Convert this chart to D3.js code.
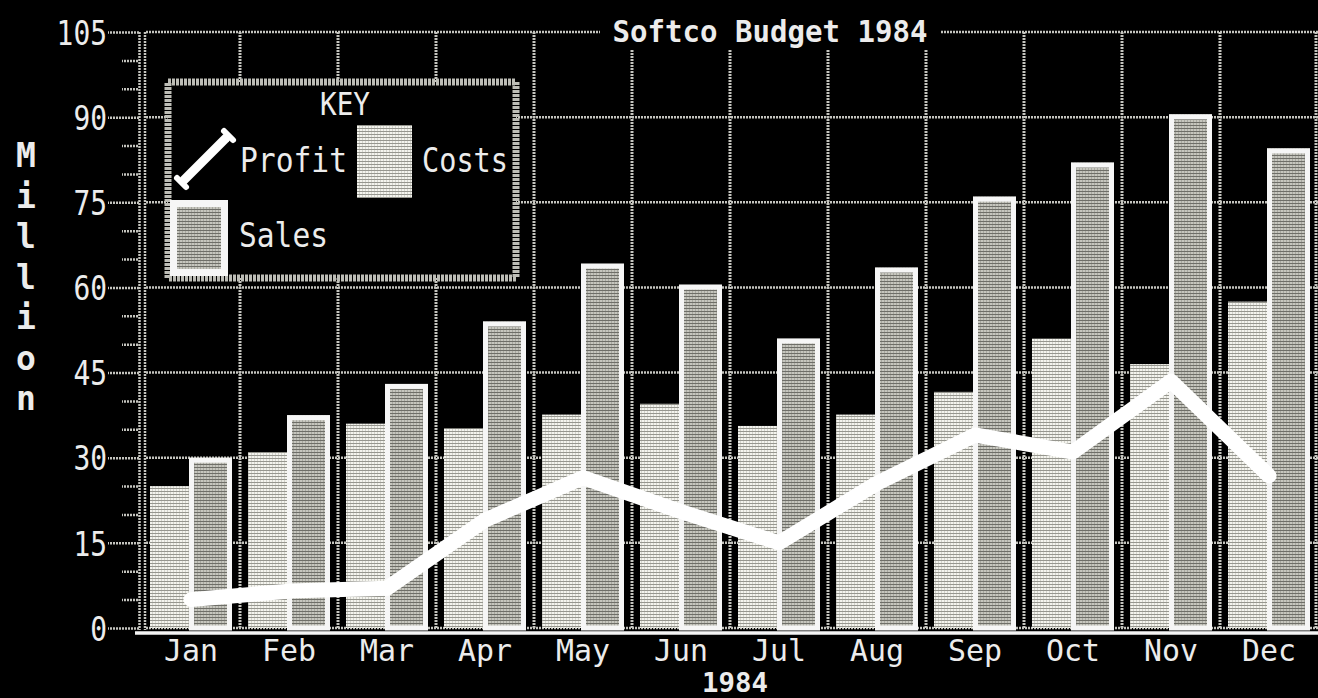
<!DOCTYPE html>
<html>
<head>
<meta charset="utf-8">
<script src="https://cdn.jsdelivr.net/npm/d3@7"></script>
<style>
  html, body { margin: 0; padding: 0; background: #000; }
  svg { display: block; }
  text { font-family: "DejaVu Sans Mono", monospace; fill: #ececec; }
</style>
</head>
<body>
<svg id="chart" width="1318" height="698"></svg>
<script>
// ---- data ----
const months = ["Jan","Feb","Mar","Apr","May","Jun","Jul","Aug","Sep","Oct","Nov","Dec"];
const costs  = [25, 31, 36, 35.2, 37.6, 39.5, 35.6, 37.6, 41.6, 51, 46.5, 57.5];
const sales  = [30, 37.5, 43, 54, 64.2, 60.5, 51, 63.5, 76, 82, 90.5, 84.5];
const profit = [5, 6.5, 7, 19, 26.5, 20.5, 15, 25.5, 34, 31, 43.5, 26.8];
const yTicks = [0, 15, 30, 45, 60, 75, 90, 105];
const yMinor = [5, 10, 20, 25, 35, 40, 50, 55, 65, 70, 80, 85, 95, 100];
const title = "Softco Budget 1984";
const xTitle = "1984";
const yTitle = "Million";
const legendKey = "KEY";
const seriesNames = ["Profit", "Costs", "Sales"];

const svg = d3.select("#chart");
const W = 1318, H = 698;
svg.append("rect").attr("width", W).attr("height", H).attr("fill", "#000");

// ---- patterns (halftone look) ----
const defs = svg.append("defs");
function pat(id, bg, line) {
  const p = defs.append("pattern").attr("id", id).attr("patternUnits", "userSpaceOnUse")
    .attr("width", 3).attr("height", 3);
  p.append("rect").attr("width", 3).attr("height", 3).attr("fill", bg);
  p.append("rect").attr("y", 2).attr("width", 3).attr("height", 1).attr("fill", line);
  p.append("rect").attr("x", 2).attr("width", 1).attr("height", 3).attr("fill", line).attr("opacity", 0.35);
}
pat("costsPat", "#f4f4ee", "#96968f");
pat("salesPat", "#c6c6be", "#6e6e68");

// ---- scales ----
const x = d3.scaleBand().domain(months).range([142, 1318]).paddingInner(0).paddingOuter(0);
const sub = d3.scaleBand().domain(["Costs", "Sales"]).range([8, 90]).padding(0);
const y = d3.scaleLinear().domain([0, 105]).range([628, 32]);

const gridCol = "#c4c4be";

// ---- grid ----
const grid = svg.append("g");
grid.selectAll("line.h").data(yTicks).join("line")
  .attr("x1", 146).attr("x2", W)
  .attr("y1", d => y(d)).attr("y2", d => y(d))
  .attr("stroke", gridCol).attr("stroke-width", 2.5).attr("stroke-dasharray", "2,1");
grid.selectAll("line.v").data(months.slice(1).concat(["__end"])).join("line")
  .attr("x1", d => d === "__end" ? W - 2 : x(d)).attr("x2", d => d === "__end" ? W - 2 : x(d))
  .attr("y1", y(105)).attr("y2", y(0))
  .attr("stroke", gridCol).attr("stroke-width", 3).attr("stroke-dasharray", "2,1");

// ---- y axis ----
const yAxis = d3.axisLeft(y).tickValues(yTicks).tickSize(31).tickPadding(1).tickFormat(d3.format("d"));
const ya = svg.append("g").attr("transform", "translate(139,0)").call(yAxis);
ya.select(".domain").remove();
ya.selectAll(".tick line").attr("stroke", gridCol).attr("stroke-width", 2.5).attr("stroke-dasharray", "2,1");
ya.selectAll(".tick text")
  .attr("fill", "#ececec").attr("font-size", 34).attr("dy", "0.36em")
  .attr("font-family", "DejaVu Sans Mono")
  .each(function(d) { d3.select(this).attr("textLength", String(d).length * 16.8).attr("lengthAdjust", "spacingAndGlyphs"); });
const yAxisMinor = d3.axisLeft(y).tickValues(yMinor).tickSize(16).tickFormat("");
const ym = svg.append("g").attr("transform", "translate(138,0)").call(yAxisMinor);
ym.select(".domain").remove();
ym.selectAll(".tick line").attr("stroke", gridCol).attr("stroke-width", 2.5).attr("stroke-dasharray", "2,1");
// double axis line
[139.5, 145].forEach(px => {
  svg.append("line").attr("x1", px).attr("x2", px).attr("y1", y(105)).attr("y2", y(0) + 2)
    .attr("stroke", gridCol).attr("stroke-width", 2.5).attr("stroke-dasharray", "2,1");
});

// ---- bars ----
const bars = svg.append("g");
bars.selectAll("rect.costs").data(months).join("rect")
  .attr("x", d => x(d) + sub("Costs"))
  .attr("width", sub.bandwidth() + 2)
  .attr("y", (d, i) => y(costs[i]))
  .attr("height", (d, i) => y(0) - y(costs[i]))
  .attr("fill", "url(#costsPat)");
bars.selectAll("rect.sales").data(months).join("rect")
  .attr("x", d => x(d) + sub("Sales") - 2)
  .attr("width", sub.bandwidth() + 2)
  .attr("y", (d, i) => y(sales[i]))
  .attr("height", (d, i) => y(0) - y(sales[i]))
  .attr("fill", "url(#salesPat)");
bars.selectAll("rect.salesBorder").data(months).join("rect")
  .attr("x", d => x(d) + sub("Sales") - 2 + 2.5)
  .attr("width", sub.bandwidth() + 2 - 5)
  .attr("y", (d, i) => y(sales[i]) + 2.5)
  .attr("height", (d, i) => y(0) - y(sales[i]) - 2.5)
  .attr("fill", "none").attr("stroke", "#f6f6f6").attr("stroke-width", 5);

// ---- x axis ----
svg.append("line").attr("x1", 135).attr("x2", W).attr("y1", 633).attr("y2", 633)
  .attr("stroke", "#f4f4f4").attr("stroke-width", 3.5);
const xAxis = d3.axisBottom(x).tickSize(0).tickPadding(0);
const xa = svg.append("g").attr("transform", "translate(0,661)").call(xAxis);
xa.select(".domain").remove();
xa.selectAll(".tick text")
  .attr("y", 0).attr("dy", 0)
  .attr("fill", "#e4e4e0").attr("font-size", 30).attr("font-family", "DejaVu Sans Mono")
  .attr("textLength", 54).attr("lengthAdjust", "spacingAndGlyphs");

// ---- profit line ----
const line = d3.line().x((d, i) => x(months[i]) + x.bandwidth() / 2).y(d => y(d));
svg.append("path").datum(profit).attr("d", line)
  .attr("fill", "none").attr("stroke", "#ffffff").attr("stroke-width", 15)
  .attr("stroke-linejoin", "round").attr("stroke-linecap", "round");

// ---- title ----
svg.append("rect").attr("x", 600).attr("y", 12).attr("width", 340).attr("height", 38).attr("fill", "#000");
svg.append("text").attr("x", 770).attr("y", 42).attr("text-anchor", "middle")
  .attr("font-size", 31).attr("font-weight", "bold")
  .attr("textLength", 315).attr("lengthAdjust", "spacingAndGlyphs")
  .attr("fill", "#f8f8f8").text(title);
svg.append("text").attr("x", 735).attr("y", 692).attr("text-anchor", "middle")
  .attr("font-size", 26).attr("font-weight", "bold")
  .attr("textLength", 66).attr("lengthAdjust", "spacingAndGlyphs")
  .attr("fill", "#f8f8f8").text(xTitle);
svg.append("g").selectAll("text").data(yTitle.split("")).join("text")
  .attr("x", 26).attr("y", (d, i) => 167 + i * 40.5)
  .attr("text-anchor", "middle").attr("font-size", 33).attr("font-weight", "bold")
  .attr("fill", "#f8f8f8").text(d => d);

// ---- legend ----
const lg = svg.append("g");
lg.append("rect").attr("x", 168).attr("y", 82).attr("width", 348).attr("height", 196)
  .attr("fill", "#000").attr("stroke", "#bdbdb6").attr("stroke-width", 7).attr("stroke-dasharray", "3,1");
lg.append("text").attr("x", 345).attr("y", 115).attr("text-anchor", "middle")
  .attr("font-size", 32).attr("textLength", 50).attr("lengthAdjust", "spacingAndGlyphs").text(legendKey);
// profit icon
lg.append("line").attr("x1", 184).attr("y1", 180).attr("x2", 226).attr("y2", 138)
  .attr("stroke", "#fff").attr("stroke-width", 9).attr("stroke-linecap", "round");
lg.append("line").attr("x1", 177).attr("y1", 178).attr("x2", 186).attr("y2", 187)
  .attr("stroke", "#fff").attr("stroke-width", 6).attr("stroke-linecap", "round");
lg.append("line").attr("x1", 224).attr("y1", 131).attr("x2", 233).attr("y2", 140)
  .attr("stroke", "#fff").attr("stroke-width", 6).attr("stroke-linecap", "round");
lg.append("text").attr("x", 240).attr("y", 172).attr("font-size", 34)
  .attr("textLength", 107).attr("lengthAdjust", "spacingAndGlyphs").text(seriesNames[0]);
// costs swatch
lg.append("rect").attr("x", 357).attr("y", 125).attr("width", 55).attr("height", 73).attr("fill", "url(#costsPat)");
lg.append("text").attr("x", 422).attr("y", 172).attr("font-size", 34)
  .attr("textLength", 86).attr("lengthAdjust", "spacingAndGlyphs").text(seriesNames[1]);
// sales swatch
lg.append("rect").attr("x", 170).attr("y", 200).attr("width", 58).attr("height", 76).attr("fill", "#f6f6f6");
lg.append("rect").attr("x", 177).attr("y", 207).attr("width", 44).attr("height", 62).attr("fill", "url(#salesPat)");
lg.append("text").attr("x", 239).attr("y", 247).attr("font-size", 34)
  .attr("textLength", 89).attr("lengthAdjust", "spacingAndGlyphs").text(seriesNames[2]);
</script>
</body>
</html>
